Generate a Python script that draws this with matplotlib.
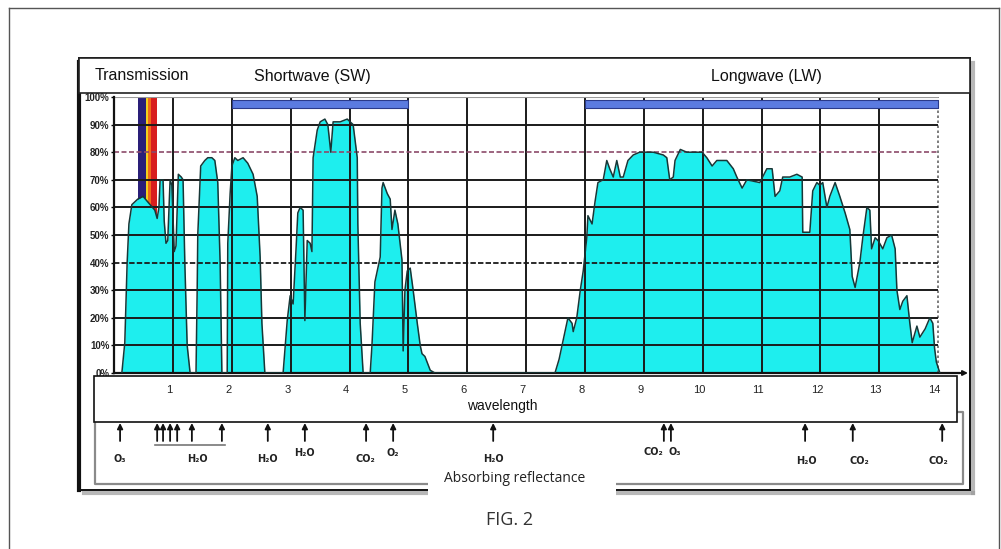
import matplotlib.pyplot as plt
from matplotlib.patches import Rectangle
from matplotlib.transforms import blended_transform_factory, offset_copy

# atmospheric transmission (%) vs wavelength (um)
wavelength = [
    0.13, 0.18, 0.22, 0.25, 0.30, 0.40, 0.49, 0.61, 0.69, 0.73, 0.76, 0.78, 0.83,
    0.85, 0.88, 0.91, 0.95, 0.98, 1.02, 1.05, 1.09, 1.14, 1.17, 1.20, 1.24, 1.29,
    1.39, 1.41, 1.42, 1.47, 1.54, 1.59, 1.66, 1.71, 1.76, 1.80, 1.83,
    1.92, 1.93, 1.97, 2.00, 2.05, 2.10, 2.19, 2.27, 2.36, 2.43, 2.48, 2.51, 2.56,
    2.87, 2.94, 2.99, 3.04, 3.09, 3.12, 3.16, 3.21, 3.24, 3.28, 3.33, 3.36, 3.38,
    3.45, 3.50, 3.58, 3.63, 3.68, 3.72, 3.84, 3.96, 4.06, 4.13, 4.14, 4.18, 4.23,
    4.35, 4.38, 4.43, 4.52, 4.55, 4.57, 4.64, 4.69, 4.72, 4.77, 4.82, 4.89, 4.91,
    4.94, 4.98, 5.03, 5.08, 5.15, 5.20, 5.23, 5.28, 5.37, 5.45,
    7.49, 7.56, 7.62, 7.71, 7.78, 7.80, 7.86, 7.92, 7.97, 8.03,
    8.05, 8.12, 8.17, 8.22, 8.31, 8.37, 8.42, 8.48, 8.54, 8.60,
    8.65, 8.73, 8.82, 8.93, 9.16, 9.33, 9.39, 9.44, 9.50, 9.53,
    9.62, 9.73, 9.84, 9.99, 10.07, 10.16, 10.24, 10.41, 10.52, 10.58,
    10.67, 10.75, 10.97, 11.09, 11.18, 11.23, 11.31, 11.36, 11.48, 11.60,
    11.69, 11.70, 11.82, 11.87, 11.94, 11.99, 12.04, 12.11, 12.16, 12.25,
    12.33, 12.42, 12.50, 12.54, 12.59, 12.67, 12.72, 12.79, 12.84, 12.87,
    12.93, 12.98, 13.06, 13.13, 13.21, 13.27, 13.30, 13.35, 13.40, 13.47,
    13.52, 13.56, 13.64, 13.69, 13.78, 13.86, 13.91, 13.94, 13.97, 14.03,
]
transmission = [
    0, 11, 40, 54, 61, 63, 64, 61, 59, 56, 60, 70, 70,
    55, 47, 48, 70, 68, 44, 46, 72, 71, 70, 40, 10, 0,
    0, 30, 50, 75, 77, 78, 78, 77, 69, 40, 0,
    0, 47, 65, 75, 78, 77, 78, 76, 72, 64, 42, 18, 0,
    0, 19, 28, 25, 45, 58, 60, 59, 19, 48, 47, 44, 78,
    88, 91, 92, 90, 80, 91, 91, 92, 90, 78, 54, 18, 0,
    0, 10, 33, 42, 67, 69, 65, 63, 52, 59, 54, 41, 8,
    30, 37, 38, 30, 18, 10, 7, 6, 1, 0,
    0, 5, 11, 20, 18, 15, 20, 30, 37, 49,
    57, 54, 62, 69, 70, 77, 74, 71, 77, 71,
    71, 77, 79, 80, 80, 79, 78, 70, 71, 77,
    81, 80, 80, 80, 78, 75, 77, 77, 74, 71,
    67, 70, 69, 74, 74, 64, 66, 71, 71, 72,
    71, 51, 51, 66, 69, 68, 69, 60, 64, 69,
    64, 58, 52, 35, 31, 40, 49, 60, 59, 45,
    49, 48, 45, 49, 50, 45, 30, 23, 26, 28,
    18, 11, 17, 13, 16, 20, 18, 9, 4, 0,
]

sw_band = (2, 5)
lw_band = (8, 14)
visible_edges = [0.40, 0.54, 0.58, 0.63, 0.73]
visible_colors = ['#2a1f78', '#f2d21c', '#f06a1a', '#d81e1e']

absorber_wl = [0.10, 0.73, 0.83, 0.95, 1.07, 1.32, 1.83, 2.61, 3.24, 4.28,
               4.74, 6.44, 9.34, 9.46, 11.74, 12.55, 14.07]
absorber_names = ['O₃', 'H₂O', 'H₂O', 'H₂O', 'CO₂', 'O₂', 'H₂O',
                  'CO₂', 'O₃', 'H₂O', 'CO₂', 'CO₂']
absorber_name_wl = [0.10, 1.42, 2.61, 3.24, 4.26, 4.74, 6.44,
                    9.16, 9.53, 11.77, 12.67, 14.0]
h2o_group = (0.70, 1.88)

y_ticks = list(range(0, 101, 10))
x_ticks = list(range(1, 15))

W, H = 1001, 549
fig = plt.figure(figsize=(W / 100, H / 100), dpi=100)
fig.patch.set_facecolor('white')

px_per_um = 58.85
x0 = 114.2
xmax = 14.35
ax = fig.add_axes([x0 / W, 1 - 373 / H, xmax * px_per_um / W, 276 / H])
ax.set_xlim(0, xmax)
ax.set_ylim(0, 100)

ov = fig.add_axes([0, 0, 1, 1], zorder=3)
ov.set_xlim(0, W)
ov.set_ylim(H, 0)
ov.axis('off')
bt = blended_transform_factory(ax.transData, ov.transData)

sans = ['Liberation Sans', 'DejaVu Sans']

# visible spectrum stripe (lower part gets covered by the fill)
for a, b, c in zip(visible_edges[:-1], visible_edges[1:], visible_colors):
    ax.axvspan(a, b, color=c, zorder=0.5, lw=0)

ax.fill_between(wavelength, 0, transmission, color='#1eeeee', lw=0, zorder=1)

# grid
ax.vlines(x_ticks[:-1], 0, 100, color='#1a1a1a', lw=1.4, zorder=2)
ax.vlines(14, 0, 100, color='#666666', lw=1.2, ls=(0, (1.5, 1.5)), zorder=2)
for v in y_ticks[1:-1]:
    if v == 80:
        ax.hlines(v, 0, 14, color='#8c4a6a', lw=1.2, ls=(0, (3, 1.5)), zorder=2)
    elif v == 40:
        ax.hlines(v, 0, 14, color='#1a1a1a', lw=1.3, ls=(0, (3, 1.2)), zorder=2)
    else:
        ax.hlines(v, 0, 14, color='#1a1a1a', lw=1.4, zorder=2)
ax.hlines(100, 0, 14, color='#999999', lw=0.8, zorder=2)

ax.plot(wavelength, transmission, color='#173737', lw=1.1, zorder=3)

for band in (sw_band, lw_band):
    ax.broken_barh([(band[0], band[1] - band[0])], (96, 3), facecolor='#5b7be0',
                   edgecolor='#2a3a8a', lw=0.8, zorder=4)

for s in ('top', 'right'):
    ax.spines[s].set_visible(False)
for s in ('left', 'bottom'):
    ax.spines[s].set_linewidth(1.6)
    ax.spines[s].set_color('#111111')
ax.set_xticks([])
ax.set_yticks(y_ticks)
ax.set_yticklabels([f'{v}%' for v in y_ticks], fontsize=7, fontweight='bold',
                   color='#222222', family=sans)
ax.tick_params(axis='y', length=2.5, width=1, pad=1)

# x-axis arrow
ov.annotate('', xy=(968, 373), xytext=(955, 373),
            arrowprops=dict(arrowstyle='-|>', color='#111111', lw=1.4,
                            mutation_scale=7, shrinkA=0, shrinkB=0))

# chart frame and title strip
ov.plot([973, 973], [63, 493], color='#9a9a9a', lw=3, alpha=0.7, zorder=1)
ov.plot([84, 973], [493, 493], color='#9a9a9a', lw=3, alpha=0.7, zorder=1)
ov.add_patch(Rectangle((79, 58), 891, 432, fill=False, ec='#111111', lw=1.4, zorder=2))
ov.plot([79, 79], [62, 490], color='#111111', lw=3, zorder=2)
ov.add_patch(Rectangle((79, 58), 891, 35, fc='white', ec='#222222', lw=1.2, zorder=2))
ov.text(95, 76, 'Transmission', fontsize=11.5, family=sans, va='center', color='#111111')
ov.text(312, 76, 'Shortwave (SW)', fontsize=11.5, family=sans, va='center',
        ha='center', color='#111111')
ov.text(766, 76, 'Longwave (LW)', fontsize=11.5, family=sans, va='center',
        ha='center', color='#111111')

# absorber bracket
ov.plot([95, 95, 963, 963, 957], [422, 484, 484, 412, 412], color='#8a8a8a',
        lw=1.6, zorder=2)

# wavelength label box
ov.add_patch(Rectangle((94, 376), 863, 46, fc='white', ec='#111111', lw=1.2, zorder=3))
tick_tr = offset_copy(bt, fig=fig, x=-3.5, units='dots')
for t in x_ticks:
    ov.text(t, 390, str(t), transform=tick_tr, fontsize=8, family=sans,
            ha='center', va='center', color='#222222', zorder=4)
ov.text(502, 406, 'wavelength', fontsize=10, family=sans, ha='center',
        va='center', color='#111111', zorder=4)

# absorption arrows and labels
for x in absorber_wl:
    ov.annotate('', xy=(x, 423), xytext=(x, 441), xycoords=bt, textcoords=bt,
                arrowprops=dict(arrowstyle='-|>', color='#111111', lw=1.3,
                                mutation_scale=8, shrinkA=0, shrinkB=0), zorder=4)
ov.plot(h2o_group, [445, 445], transform=bt, color='#777777', lw=1.2)
name_y = [459, 459, 459, 453, 459, 453, 459, 452, 452, 461, 461, 461]
for name, x, yy in zip(absorber_names, absorber_name_wl, name_y):
    ov.text(x, yy, name, transform=bt, fontsize=7, fontweight='bold',
            family=['DejaVu Sans'], ha='center', va='center', color='#222222')

ov.add_patch(Rectangle((428, 466), 188, 31, fc='white', ec='none', zorder=5))
ov.text(515, 478, 'Absorbing reflectance', fontsize=10, family=['Open Sans', 'DejaVu Sans'],
        ha='center', va='center', color='#222222', zorder=6)

# outer page frame and caption
ov.plot([9, 9], [8, H], color='#555555', lw=1)
ov.plot([9, 999], [8, 8], color='#555555', lw=1)
ov.plot([999, 999], [8, H], color='#555555', lw=1)
ov.text(510, 520, 'FIG. 2', fontsize=13, family=['Open Sans', 'DejaVu Sans'],
        ha='center', va='center', color='#333333')

fig.savefig('out.png', dpi=100, facecolor='white')
